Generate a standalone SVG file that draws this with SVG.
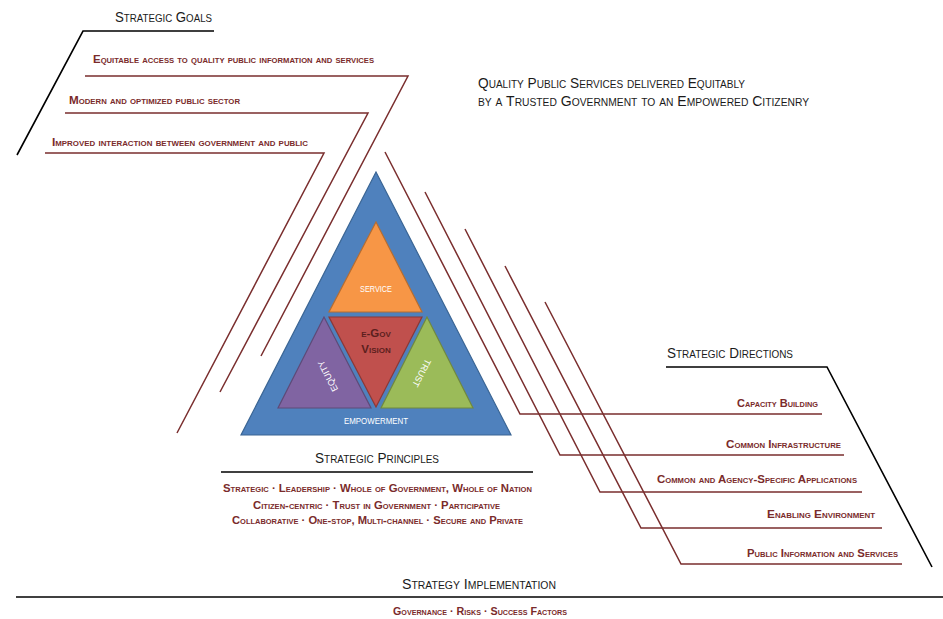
<svg xmlns="http://www.w3.org/2000/svg" width="943" height="619" viewBox="0 0 943 619">
<style>
.t{font-family:"Liberation Sans","Open Sans",Arial,sans-serif;font-variant:small-caps;}
.title{font-size:15px;fill:#1a1a1a;}
.item{font-size:10.5px;font-weight:bold;fill:#7A2B2B;}
.blk{fill:none;stroke:#000;stroke-width:1.6;}
.con{fill:none;stroke:#7A2E2E;stroke-width:1.5;}
.wt{font-size:9px;fill:#fff;}
</style>
<rect width="943" height="619" fill="#fff"/>

<g id="connectors">
<polyline class="con" points="85,76 408,76 261,356"/>
<polyline class="con" points="65,113 368,113 220,392"/>
<polyline class="con" points="45,153 324,153 177,433"/>
<polyline class="con" points="385,152 520,414 822,414"/>
<polyline class="con" points="425,192 560,455 844,455"/>
<polyline class="con" points="465,229 600,492 862,492"/>
<polyline class="con" points="505,266 641,528 882,528"/>
<polyline class="con" points="545,302 681,564 902,564"/>
</g>

<g id="strategic-goals">
<polyline class="blk" points="17,155 83,31 214,31"/>
<text class="t title" x="115" y="22" textLength="97" lengthAdjust="spacingAndGlyphs">Strategic Goals</text>
<text class="t item" x="93" y="63" textLength="281" lengthAdjust="spacingAndGlyphs">Equitable access to quality public information and services</text>
<text class="t item" x="69" y="104" textLength="171" lengthAdjust="spacingAndGlyphs">Modern and optimized public sector</text>
<text class="t item" x="52" y="146" textLength="256" lengthAdjust="spacingAndGlyphs">Improved interaction between government and public</text>
</g>

<g id="vision-statement">
<text class="t" x="478" y="88" font-size="15" fill="#1a1a1a" textLength="267" lengthAdjust="spacingAndGlyphs">Quality Public Services delivered Equitably</text>
<text class="t" x="478" y="106" font-size="15" fill="#1a1a1a" textLength="331" lengthAdjust="spacingAndGlyphs">by a Trusted Government to an Empowered Citizenry</text>
</g>

<g id="empowerment">
<polygon points="376,172 241,435 511,435" fill="#4F81BD" stroke="#3A6594" stroke-width="1.2"/>
<text class="t wt" x="344" y="424" textLength="64" lengthAdjust="spacingAndGlyphs">EMPOWERMENT</text>
</g>

<g id="service">
<polygon points="376,222 329,312 422,312" fill="#F79646" stroke="#B66D31" stroke-width="1.2"/>
<text class="t wt" x="360" y="292" textLength="32" lengthAdjust="spacingAndGlyphs">SERVICE</text>
</g>

<g id="egov-vision">
<polygon points="329,317 422,317 376,407" fill="#C0504D" stroke="#8C3836" stroke-width="1.2"/>
<text class="t" x="376" y="337" font-size="11.5" font-weight="bold" fill="#5C1F1E" text-anchor="middle">e-Gov</text>
<text class="t" x="376" y="352.5" font-size="11.5" font-weight="bold" fill="#5C1F1E" text-anchor="middle">Vision</text>
</g>

<g id="equity">
<polygon points="324,317 278,408 371,408" fill="#8064A2" stroke="#5E4A78" stroke-width="1.2"/>
<text class="t wt" x="0" y="3" text-anchor="middle" transform="translate(328,376) rotate(-117)">EQUITY</text>
</g>

<g id="trust">
<polygon points="427,317 381,408 473,408" fill="#9BBB59" stroke="#71893F" stroke-width="1.2"/>
<text class="t wt" x="0" y="3" text-anchor="middle" transform="translate(421.5,373) rotate(117)">TRUST</text>
</g>

<g id="strategic-principles">
<text class="t title" x="315" y="463" textLength="124" lengthAdjust="spacingAndGlyphs">Strategic Principles</text>
<line class="blk" x1="221" y1="472" x2="533" y2="472"/>
<text class="t item" x="223" y="492" textLength="309" lengthAdjust="spacingAndGlyphs">Strategic  · Leadership · Whole of Government, Whole of Nation</text>
<text class="t item" x="253" y="509" textLength="247" lengthAdjust="spacingAndGlyphs">Citizen-centric · Trust in Government · Participative</text>
<text class="t item" x="232" y="524" textLength="291" lengthAdjust="spacingAndGlyphs">Collaborative · One-stop, Multi-channel · Secure and Private</text>
</g>

<g id="strategic-directions">
<text class="t title" x="667" y="358" textLength="126" lengthAdjust="spacingAndGlyphs">Strategic Directions</text>
<polyline class="blk" points="666,367 827,367 932,567"/>
<text class="t item" x="737" y="407" textLength="81" lengthAdjust="spacingAndGlyphs">Capacity Building</text>
<text class="t item" x="726" y="448" textLength="115" lengthAdjust="spacingAndGlyphs">Common Infrastructure</text>
<text class="t item" x="657" y="483" textLength="200" lengthAdjust="spacingAndGlyphs">Common and Agency-Specific Applications</text>
<text class="t item" x="767" y="518" textLength="108" lengthAdjust="spacingAndGlyphs">Enabling Environment</text>
<text class="t item" x="747" y="557" textLength="151" lengthAdjust="spacingAndGlyphs">Public Information and Services</text>
</g>

<g id="strategy-implementation">
<text class="t title" x="402" y="589" textLength="154" lengthAdjust="spacingAndGlyphs">Strategy Implementation</text>
<line class="blk" x1="16" y1="597" x2="943" y2="597"/>
<text class="t item" x="393" y="615" textLength="174" lengthAdjust="spacingAndGlyphs">Governance · Risks · Success Factors</text>
</g>
</svg>
